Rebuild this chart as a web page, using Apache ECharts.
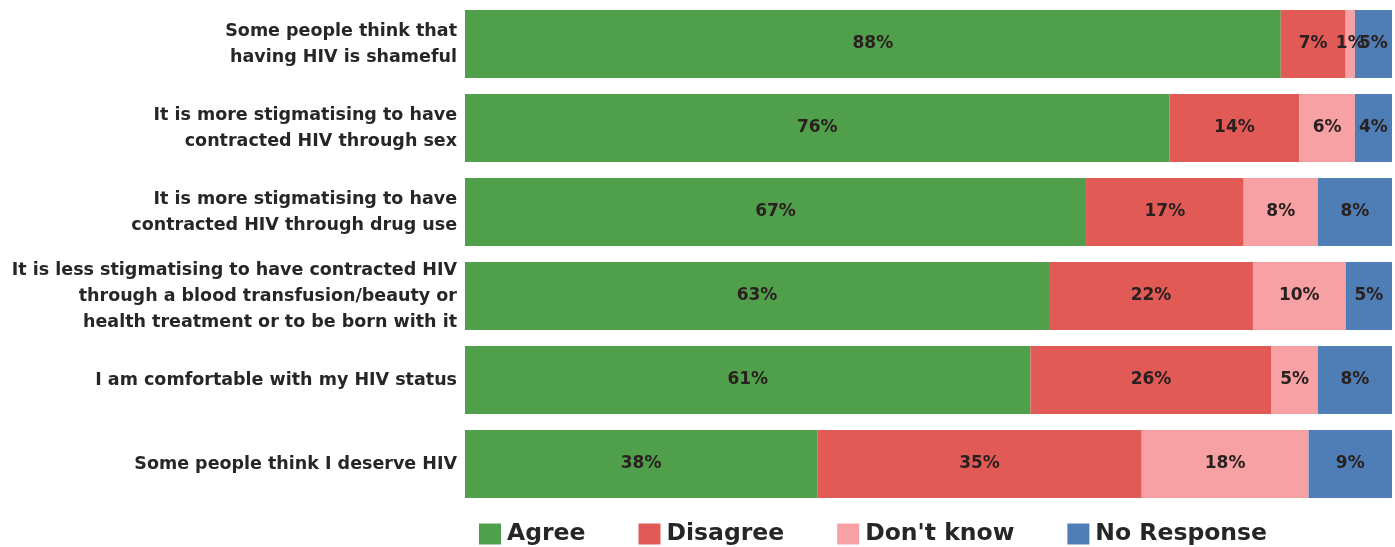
<!DOCTYPE html>
<html>
<head>
<meta charset="utf-8">
<script src="https://cdn.jsdelivr.net/npm/echarts@6/dist/echarts.min.js"></script>
<style>
  html, body { margin: 0; padding: 0; background: #ffffff; }
  #chart { width: 1395px; height: 547px; }
</style>
</head>
<body>
<div id="chart"></div>
<script>
// Survey statements, listed top to bottom
const categories = [
  'Some people think that\nhaving HIV is shameful',
  'It is more stigmatising to have\ncontracted HIV through sex',
  'It is more stigmatising to have\ncontracted HIV through drug use',
  'It is less stigmatising to have contracted HIV\nthrough a blood transfusion/beauty or\nhealth treatment or to be born with it',
  'I am comfortable with my HIV status',
  'Some people think I deserve HIV'
];

// Response shares (%) per statement, same order as categories
const agree      = [88, 76, 67, 63, 61, 38];
const disagree   = [7, 14, 17, 22, 26, 35];
const dontKnow   = [1, 6, 8, 10, 5, 18];
const noResponse = [5, 4, 8, 5, 8, 9];

const seriesNames = ['Agree', 'Disagree', "Don't know", 'No Response'];
const seriesColors = ['#50a04b', '#e25a56', '#f8a1a4', '#4f7eb6'];
const seriesData = [agree, disagree, dontKnow, noResponse];

const FONT = 'DejaVu Sans';

const chart = echarts.init(document.getElementById('chart'), null, { renderer: 'canvas' });

chart.setOption({
  animation: false,
  backgroundColor: '#ffffff',
  grid: { left: 465, right: 3, top: 2, height: 504, containLabel: false },
  legend: {
    top: 522,
    left: 479,
    padding: 0,
    itemWidth: 22,
    itemHeight: 21,
    itemGap: 53,
    icon: 'rect',
    textStyle: { fontFamily: FONT, fontWeight: 'bold', fontSize: 23.5, color: '#262626', padding: [0, 0, 0, 1] },
    data: seriesNames
  },
  xAxis: {
    type: 'value',
    min: 0,
    max: 100,
    show: false
  },
  yAxis: {
    type: 'category',
    inverse: true,
    data: categories,
    axisLine: { show: false },
    axisTick: { show: false },
    axisLabel: {
      margin: 8,
      fontFamily: FONT,
      fontWeight: 'bold',
      fontSize: 17.5,
      lineHeight: 26,
      color: '#262626',
      align: 'right'
    }
  },
  series: seriesData.map((vals, i) => ({
    name: seriesNames[i],
    type: 'bar',
    stack: 'total',
    barCategoryGap: '19%',
    clip: true,
    data: vals,
    itemStyle: { color: seriesColors[i] },
    label: {
      show: true,
      position: 'inside',
      formatter: '{c}%',
      fontFamily: FONT,
      fontWeight: 'bold',
      fontSize: 17,
      color: '#2a2020'
    }
  }))
});
</script>
</body>
</html>
